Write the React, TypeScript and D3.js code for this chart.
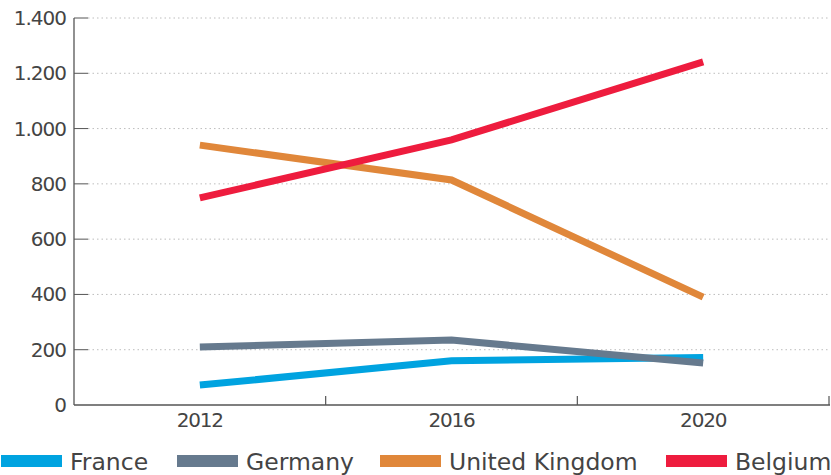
import React from "react";
import * as d3 from "d3";

const years = ["2012", "2016", "2020"];
const seriesNames = ["France", "Germany", "United Kingdom", "Belgium"];
const france = [72, 160, 172];
const germany = [210, 235, 152];
const uk = [940, 814, 390];
const belgium = [749, 959, 1241];
const yTicks = [0, 200, 400, 600, 800, 1000, 1200, 1400];
const colors = ["#00a3e0", "#667a8e", "#e0873a", "#ee1c3e"];

const W = 831, H = 475;
const FONT = "DejaVu Sans, sans-serif";

export default function App() {
  const x = d3.scaleBand<string>().domain(years).range([74, 829]).padding(0);
  const y = d3.scaleLinear().domain([0, 1400]).range([405, 18]);
  const data = [france, germany, uk, belgium];
  const line = d3
    .line<number>()
    .x((_, i) => (x(years[i]) as number) + x.bandwidth() / 2)
    .y((d) => y(d));
  const legendX = [1, 177, 380, 666];
  const fmt = (v: number) => d3.format(",")(v).replace(/,/g, ".");
  return (
    <div style={{ position: "absolute", left: 0, top: 0 }}>
      <svg width={W} height={H} style={{ display: "block" }}>
        {yTicks.map((t) => (
          <g key={t}>
            {t > 0 && (
              <line x1={88} x2={829} y1={y(t)} y2={y(t)} stroke="#bdbdbd" strokeWidth={1} strokeDasharray="1.5,3" />
            )}
            {t > 0 && <line x1={74} x2={88} y1={y(t)} y2={y(t)} stroke="#555" strokeWidth={1} />}
            <text x={66} y={y(t) + 7} textAnchor="end" fontFamily={FONT} fontSize={20} letterSpacing={-1} fill="#444">
              {fmt(t)}
            </text>
          </g>
        ))}
        <line x1={74} x2={74} y1={y(1400)} y2={y(0)} stroke="#555" strokeWidth={1.3} />
        <line x1={74} x2={830} y1={y(0)} y2={y(0)} stroke="#555" strokeWidth={1.3} />
        {years.map((yr, i) => (
          <g key={yr}>
            {i > 0 && (
              <line x1={x(yr) as number} x2={x(yr) as number} y1={y(0) - 9} y2={y(0)} stroke="#555" strokeWidth={1.2} />
            )}
            <text
              x={(x(yr) as number) + x.bandwidth() / 2}
              y={427}
              textAnchor="middle"
              fontFamily={FONT}
              fontSize={20}
              letterSpacing={-1.2}
              fill="#444"
            >
              {yr}
            </text>
          </g>
        ))}
        <line x1={829} x2={829} y1={y(0) - 9} y2={y(0)} stroke="#555" strokeWidth={1.2} />
        {data.map((d, i) => (
          <path key={i} d={line(d) as string} fill="none" stroke={colors[i]} strokeWidth={7} />
        ))}
        {seriesNames.map((n, i) => (
          <g key={n}>
            <rect x={legendX[i]} y={455} width={61} height={12} fill={colors[i]} />
            <text x={legendX[i] + 69} y={470} fontFamily={FONT} fontSize={23.5} fill="#444">
              {n}
            </text>
          </g>
        ))}
      </svg>
    </div>
  );
}
